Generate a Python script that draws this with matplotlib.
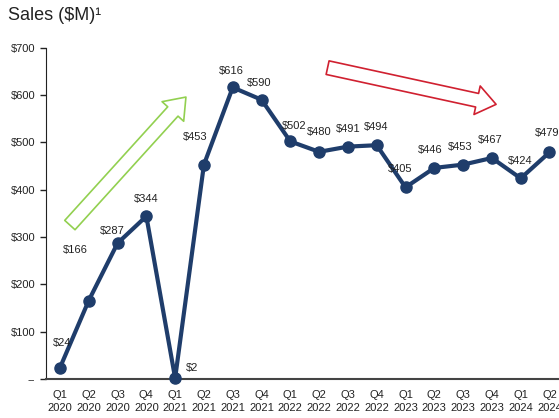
import matplotlib
matplotlib.use("Agg")
import matplotlib.pyplot as plt
from matplotlib.patches import FancyArrowPatch

plt.rcParams['font.family'] = ['Liberation Sans', 'DejaVu Sans']

# quarterly sales, $M
quarters = ['Q1\n2020', 'Q2\n2020', 'Q3\n2020', 'Q4\n2020',
            'Q1\n2021', 'Q2\n2021', 'Q3\n2021', 'Q4\n2021',
            'Q1\n2022', 'Q2\n2022', 'Q3\n2022', 'Q4\n2022',
            'Q1\n2023', 'Q2\n2023', 'Q3\n2023', 'Q4\n2023',
            'Q1\n2024', 'Q2\n2024']
sales = [24, 166, 287, 344, 2, 453, 616, 590, 502, 480, 491, 494,
         405, 446, 453, 467, 424, 479]
y_ticks = [0, 100, 200, 300, 400, 500, 600, 700]
y_labels = ['--', '$100', '$200', '$300', '$400', '$500', '$600', '$700']

# label offsets in pixels (dx, dy) from each point
offs = [(2, 25), (-13, 51), (-5, 12), (0, 17), (17, 10), (-9, 28),
        (-1, 16), (-2, 17), (4, 15), (0, 20), (0, 18), (-1, 18),
        (-5, 18), (-4, 18), (-3, 18), (-2, 18), (-1, 17), (-2, 19)]

navy = '#1f3d6b'

fig = plt.figure(figsize=(5.59, 4.18), dpi=100)
ax = fig.add_axes([0.082, 0.093, 0.918, 0.793])

x = list(range(len(sales)))
ax.plot(x, sales, color=navy, lw=3, marker='o', ms=8, zorder=3, clip_on=False)

for xi, v, (dx, dy) in zip(x, sales, offs):
    ax.annotate('$%d' % v, (xi, v), xytext=(dx, dy), textcoords='offset pixels',
                ha='center', va='center', fontsize=8, color='#222222')

ax.set_xlim(-0.49, 17.33)
ax.set_ylim(0, 700)
ax.set_xticks(x)
ax.set_xticklabels(quarters, fontsize=8, color='#222222', linespacing=1.3)
ax.set_yticks(y_ticks)
ax.set_yticklabels(y_labels, fontsize=8, color='#222222')
ax.tick_params(axis='x', length=0, pad=8)
ax.tick_params(axis='y', length=4, width=1, color='#222222')
for s in ['top', 'right']:
    ax.spines[s].set_visible(False)
ax.spines['left'].set_color('#222222')
ax.spines['bottom'].set_color('#444444')
ax.spines['bottom'].set_linewidth(1.5)

# trend arrows
style = 'simple,head_length=14,head_width=21,tail_width=10'
green = FancyArrowPatch((0.28, 321), (4.44, 600), arrowstyle=style,
                        facecolor='none', edgecolor='#92d050', lw=1.2,
                        mutation_scale=1, clip_on=False)
ax.add_patch(green)
red = FancyArrowPatch((9.2, 659), (15.24, 579), arrowstyle=style,
                      facecolor='none', edgecolor='#d02030', lw=1.2,
                      mutation_scale=1, clip_on=False)
ax.add_patch(red)

fig.text(0.014, 0.962, 'Sales ($M)\u00b9', fontsize=13, color='#222222',
         va='center', ha='left')

fig.savefig('out.png', dpi=100)
